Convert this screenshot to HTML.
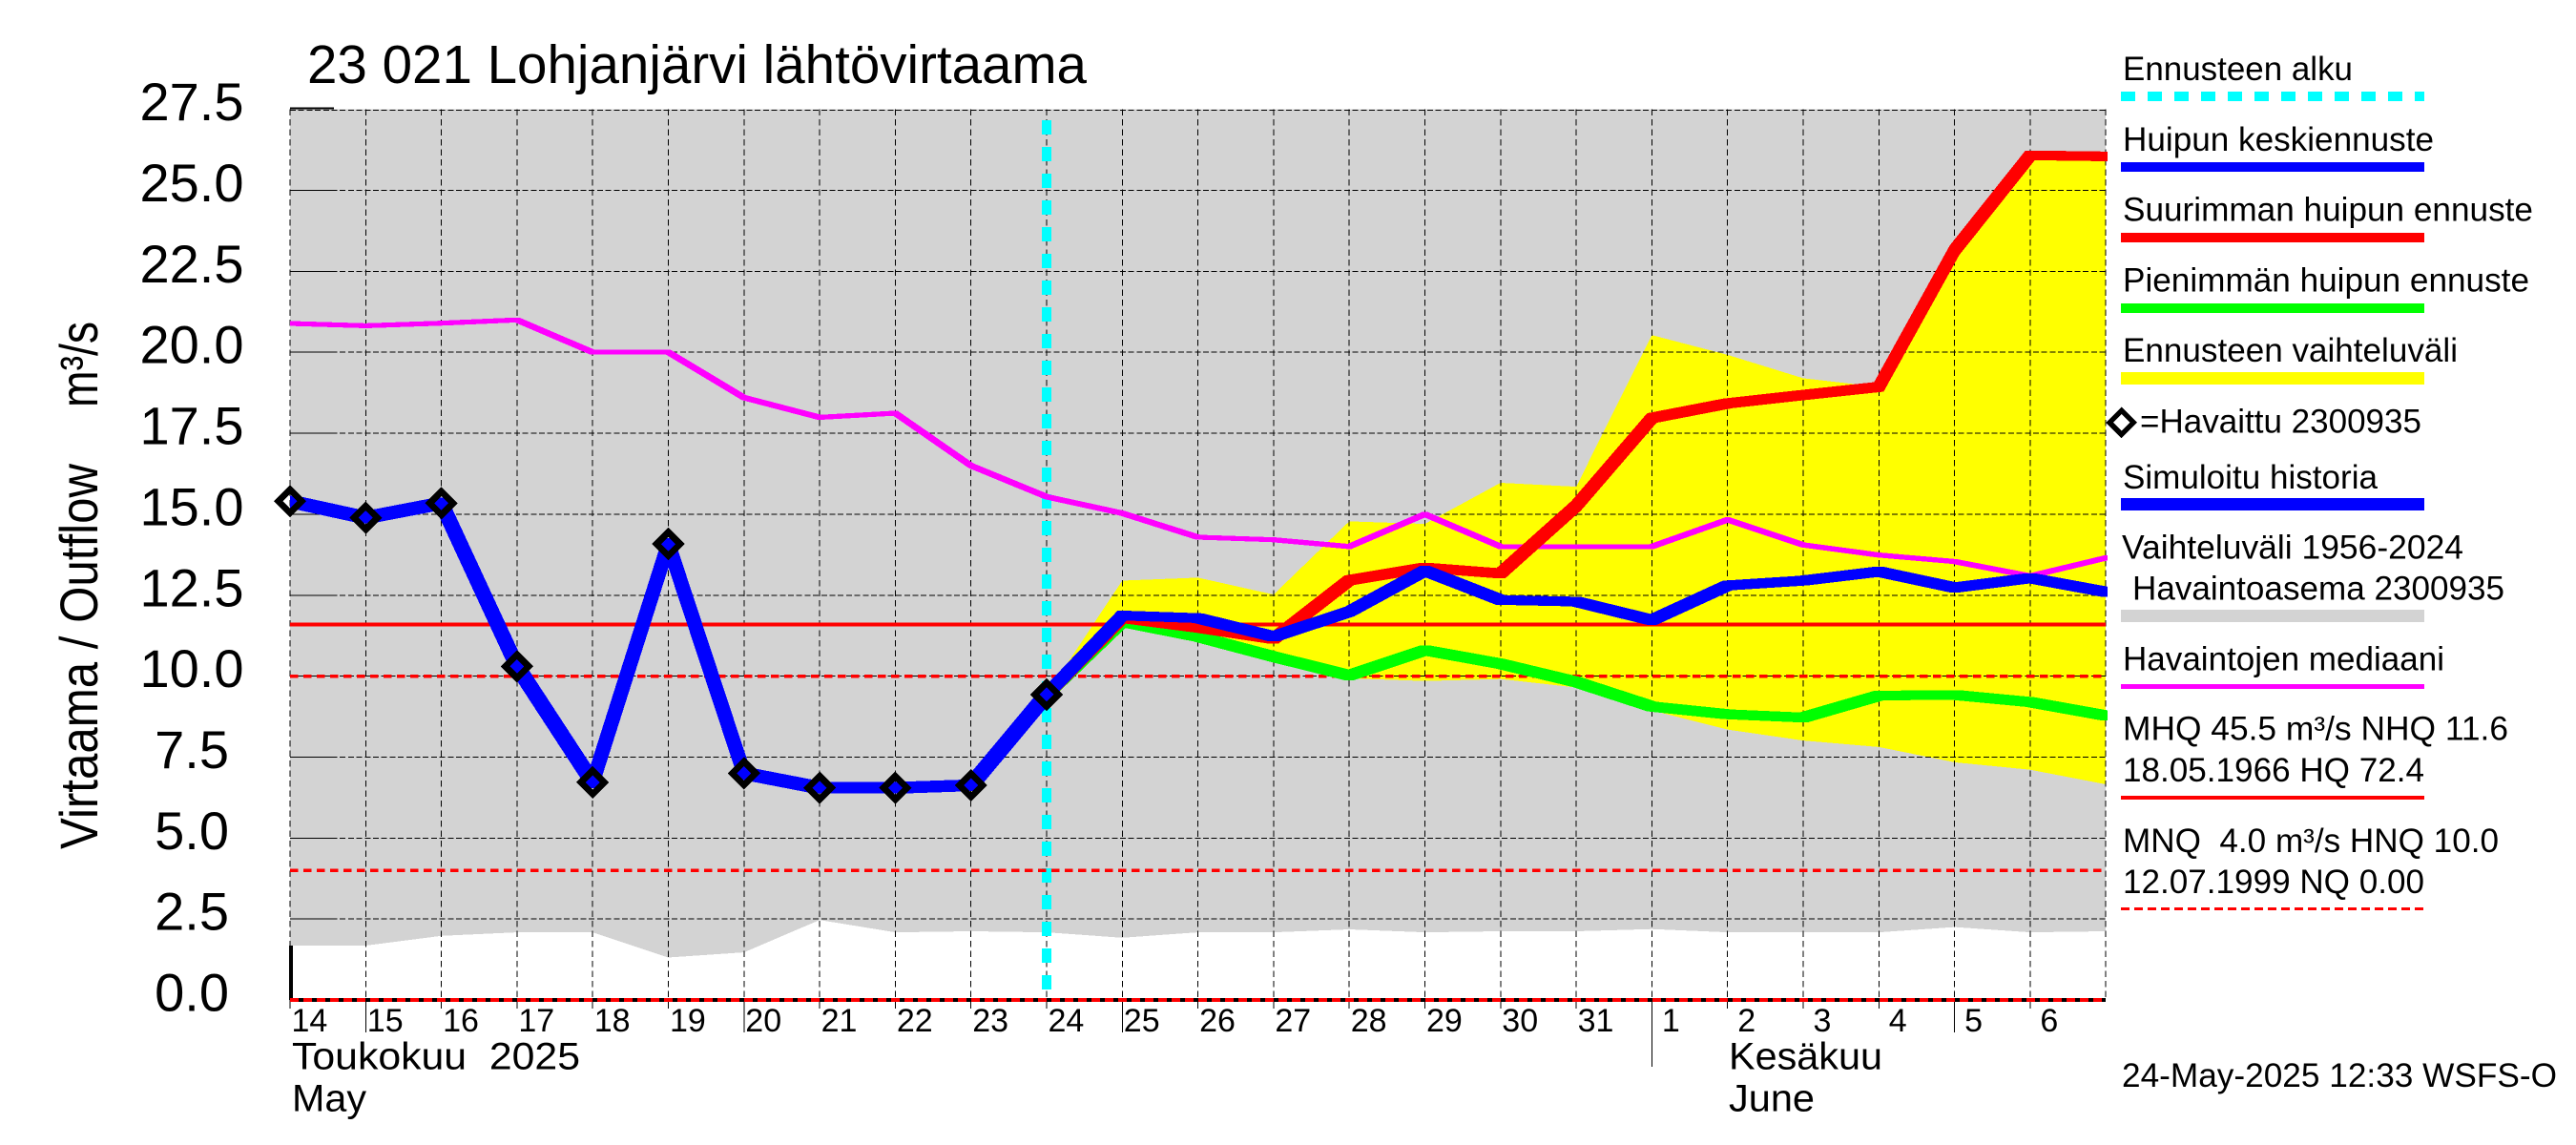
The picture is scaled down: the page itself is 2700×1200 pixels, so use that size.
<!DOCTYPE html>
<html lang="fi">
<head>
<meta charset="utf-8">
<title>23 021 Lohjanjärvi lähtövirtaama</title>
<style>
html,body{margin:0;padding:0;background:#fff;width:2700px;height:1200px;overflow:hidden}
svg{display:block}
text{font-family:"Liberation Sans",sans-serif;fill:#000;white-space:pre}
</style>
</head>
<body>
<svg id="chart" xmlns="http://www.w3.org/2000/svg" width="2700" height="1200" viewBox="0 0 2700 1200">
  <defs>
    <clipPath id="plot-clip"><rect x="304" y="100" width="1905" height="960"/></clipPath>
  </defs>
  <rect x="0" y="0" width="2700" height="1200" fill="#fff"/>
  <g id="plot" shape-rendering="crispEdges"></g>
  <g id="axes-text"></g>

  <text x="322" y="87" font-size="57" textLength="817" lengthAdjust="spacingAndGlyphs">23 021 Lohjanjärvi lähtövirtaama</text>
  <text transform="translate(102,890) rotate(-90)" font-size="56" textLength="404" lengthAdjust="spacingAndGlyphs">Virtaama / Outflow</text>
  <text transform="translate(102,427) rotate(-90)" font-size="56" textLength="90" lengthAdjust="spacingAndGlyphs">m³/s</text>

  <text x="306" y="1120.500" font-size="40" textLength="302" lengthAdjust="spacingAndGlyphs">Toukokuu  2025</text>
  <text x="306" y="1164.300" font-size="40" textLength="78" lengthAdjust="spacingAndGlyphs">May</text>
  <text x="1812" y="1120.500" font-size="40" textLength="161" lengthAdjust="spacingAndGlyphs">Kesäkuu</text>
  <text x="1812" y="1164.300" font-size="40" textLength="90" lengthAdjust="spacingAndGlyphs">June</text>

  <g>
    <text x="2225" y="84" font-size="35" textLength="241" lengthAdjust="spacingAndGlyphs">Ennusteen alku</text>
    <line x1="2223" x2="2541" y1="101" y2="101" stroke="#00ffff" stroke-width="10" stroke-dasharray="15 13" shape-rendering="crispEdges"/>
    <text x="2225" y="158" font-size="35" textLength="326" lengthAdjust="spacingAndGlyphs">Huipun keskiennuste</text>
    <rect x="2223" y="170" width="318" height="10" fill="#0000ff"/>
    <text x="2225" y="231.500" font-size="35" textLength="430" lengthAdjust="spacingAndGlyphs">Suurimman huipun ennuste</text>
    <rect x="2223" y="244" width="318" height="10" fill="#ff0000"/>
    <text x="2225" y="305.500" font-size="35" textLength="426" lengthAdjust="spacingAndGlyphs">Pienimmän huipun ennuste</text>
    <rect x="2223" y="318" width="318" height="10" fill="#00ff00"/>
    <text x="2225" y="379" font-size="35" textLength="351" lengthAdjust="spacingAndGlyphs">Ennusteen vaihteluväli</text>
    <rect x="2223" y="390" width="318" height="13" fill="#ffff00"/>
    <polygon points="2223.700,430.200 2236.300,442.800 2223.700,455.400 2211.100,442.800" fill="#fff" stroke="#000" stroke-width="5.500" shape-rendering="crispEdges"/>
    <text x="2243" y="453.500" font-size="35" textLength="295" lengthAdjust="spacingAndGlyphs">=Havaittu 2300935</text>
    <text x="2225" y="512" font-size="35" textLength="267" lengthAdjust="spacingAndGlyphs">Simuloitu historia</text>
    <rect x="2223" y="522" width="318" height="13" fill="#0000ff"/>
    <text x="2224" y="585.500" font-size="35" textLength="358" lengthAdjust="spacingAndGlyphs">Vaihteluväli 1956-2024</text>
    <text x="2235" y="628.700" font-size="35" textLength="390" lengthAdjust="spacingAndGlyphs">Havaintoasema 2300935</text>
    <rect x="2223" y="639" width="318" height="13" fill="#d3d3d3"/>
    <text x="2225" y="702.600" font-size="35" textLength="337" lengthAdjust="spacingAndGlyphs">Havaintojen mediaani</text>
    <rect x="2223" y="717" width="318" height="5" fill="#ff00ff"/>
    <text x="2225" y="775.300" font-size="35" textLength="404" lengthAdjust="spacingAndGlyphs">MHQ 45.5 m³/s NHQ 11.6</text>
    <text x="2225" y="819" font-size="35" textLength="316" lengthAdjust="spacingAndGlyphs">18.05.1966 HQ 72.4</text>
    <rect x="2223" y="834" width="318" height="4" fill="#ff0000"/>
    <text x="2225" y="892.800" font-size="35" textLength="394" lengthAdjust="spacingAndGlyphs">MNQ  4.0 m³/s HNQ 10.0</text>
    <text x="2225" y="936" font-size="35" textLength="316" lengthAdjust="spacingAndGlyphs">12.07.1999 NQ 0.00</text>
    <line x1="2223" x2="2541" y1="952.500" y2="952.500" stroke="#ff0000" stroke-width="3" stroke-dasharray="9 5" shape-rendering="crispEdges"/>
  </g>
  <text x="2224" y="1138.800" font-size="35" textLength="456" lengthAdjust="spacingAndGlyphs">24-May-2025 12:33 WSFS-O</text>
</svg>

<script>
// ---- chart data ----
const dayLabels = ["14","15","16","17","18","19","20","21","22","23","24","25","26","27","28","29","30","31","1","2","3","4","5","6"];
const yTicks = [0, 2.5, 5, 7.5, 10, 12.5, 15, 17.5, 20, 22.5, 25, 27.5];
const longTickDays = ["15","20","25","5"];
const monthBoundaryDay = "1";

// day index 0 = 14 May; index 24 = right edge of the plot
const historyLow = [1.68,1.68,1.98,2.09,2.09,1.31,1.47,2.47,2.09,2.12,2.09,1.92,2.09,2.09,2.18,2.09,2.12,2.12,2.19,2.09,2.09,2.09,2.25,2.09,2.12];
const historyHigh = 27.5;
const observedMedian = [20.89,20.82,20.9,21.0,20.0,20.0,18.6,17.99,18.12,16.5,15.54,15.03,14.29,14.21,14.0,15.0,14.0,14.0,14.0,14.83,14.05,13.74,13.54,13.09,13.65];

const observed = [15.4,14.89,15.34,10.3,6.72,14.08,7.0,6.55,6.55,6.63,9.43];

// forecast series start at day index 10
const forecastStart = 10;
const rangeUpper = [9.43,12.95,13.04,12.52,14.78,14.7,15.97,15.85,20.53,19.92,19.2,18.93,23.15,26.08,26.05];
const rangeLower = [9.43,11.68,11.2,10.6,9.93,9.85,9.91,9.65,8.94,8.35,8.01,7.81,7.34,7.11,6.66];
const peakMax = [9.43,11.8,11.5,11.15,12.96,13.35,13.17,15.26,17.97,18.42,18.68,18.93,23.15,26.08,26.05];
const peakMedian = [9.43,11.87,11.79,11.22,11.99,13.26,12.35,12.3,11.73,12.8,12.95,13.23,12.73,13.03,12.6];
const peakMin = [9.43,11.68,11.22,10.6,10.02,10.8,10.38,9.82,9.06,8.82,8.72,9.4,9.42,9.2,8.78];

const nhq = 11.6;
const hnq = 10.0;
const mnq = 4.0;
const nq = 0;

// ---- axis functions ----
function xAt(dayIndex){ return 304 + 79.3 * dayIndex; }
function yAt(value){ return 1048 - 33.94 * value; }

const NS = 'http://www.w3.org/2000/svg';
const plot = document.getElementById('plot');
const axesText = document.getElementById('axes-text');
function make(tag, attrs, parent){
  const el = document.createElementNS(NS, tag);
  for (const k in attrs) el.setAttribute(k, attrs[k]);
  parent.appendChild(el);
  return el;
}
function fmt(n){ return n.toFixed(1); }

// thick lines use a square pen, as the original plotting software does
function penPath(indices, values, pen){
  const h = pen / 2;
  let d = '';
  for (let i = 0; i + 1 < values.length; i++){
    const x1 = xAt(indices + i), y1 = yAt(values[i]);
    const x2 = xAt(indices + i + 1), y2 = yAt(values[i + 1]);
    const p = y2 >= y1
      ? [[x1-h,y1-h],[x1+h,y1-h],[x2+h,y2-h],[x2+h,y2+h],[x2-h,y2+h],[x1-h,y1+h]]
      : [[x1-h,y1+h],[x1-h,y1-h],[x2-h,y2-h],[x2+h,y2-h],[x2+h,y2+h],[x1+h,y1+h]];
    d += 'M' + p.map(q => fmt(q[0]) + ' ' + fmt(q[1])).join('L') + 'Z';
  }
  return d;
}

// ---- filled ranges ----
const plotLeft = xAt(0), plotRight = xAt(24), plotTop = yAt(historyHigh), plotBottom = yAt(0);
let pts = historyLow.map((v, i) => fmt(xAt(i)) + ',' + fmt(yAt(v)));
pts.unshift(fmt(plotLeft) + ',' + fmt(plotTop));
pts.push(fmt(plotRight) + ',' + fmt(plotTop));
const grayArea = make('polygon', {points: pts.join(' '), fill: '#d3d3d3'}, plot);



pts = rangeUpper.map((v, i) => fmt(xAt(forecastStart + i)) + ',' + fmt(yAt(v)));
for (let i = rangeLower.length - 1; i >= 0; i--) pts.push(fmt(xAt(forecastStart + i)) + ',' + fmt(yAt(rangeLower[i])));
const yellowArea = make('polygon', {points: pts.join(' '), fill: '#ffff00'}, plot);



// ---- grid ----
yTicks.forEach(v => {
  const y = yAt(v);
  if (v > 0){
    const g = make('line', {x1: plotLeft, x2: plotRight, y1: y + (v === historyHigh ? 0.7 : 0), y2: y + (v === historyHigh ? 0.7 : 0), stroke: '#000', 'stroke-width': 1, 'stroke-dasharray': '6 2.700'}, plot);
    
    
    const isTop = v === historyHigh;
    const t = make('line', {x1: plotLeft, x2: plotLeft + 46, y1: isTop ? y - 1 : y, y2: isTop ? y - 1 : y, stroke: '#000', 'stroke-width': isTop ? 2 : 1}, plot);
    
    
  }
});
for (let i = 0; i <= 24; i++){
  const x = xAt(i);
  const g = make('line', {x1: x, x2: x, y1: plotTop, y2: plotBottom, stroke: '#000', 'stroke-width': 1, 'stroke-dasharray': '6.500 4'}, plot);
  
  
  if (i < dayLabels.length){
    const isBoundary = dayLabels[i] === monthBoundaryDay;
    const isLong = longTickDays.includes(dayLabels[i]);
    const tickEnd = isBoundary ? 1118 : (isLong ? 1082 : 1057);
    const t = make('line', {x1: x, x2: x, y1: plotBottom, y2: tickEnd, stroke: '#000', 'stroke-width': 1}, plot);
    
    
  }
}
const yAxisFoot = make('line', {x1: plotLeft + 1, x2: plotLeft + 1, y1: yAt(historyLow[0]), y2: plotBottom, stroke: '#000', 'stroke-width': 4}, plot);



// ---- forecast start marker ----
const startLine = make('line', {x1: xAt(forecastStart), x2: xAt(forecastStart), y1: 126, y2: plotBottom, stroke: '#00ffff', 'stroke-width': 10, 'stroke-dasharray': '15 13'}, plot);



// ---- reference levels ----
const nhqLine = make('line', {x1: plotLeft, x2: plotRight, y1: yAt(nhq), y2: yAt(nhq), stroke: '#ff0000', 'stroke-width': 4}, plot);


const hnqLine = make('line', {x1: plotLeft, x2: plotRight, y1: yAt(hnq), y2: yAt(hnq), stroke: '#ff0000', 'stroke-width': 3.5, 'stroke-dasharray': '8.500 5.500'}, plot);


const mnqLine = make('line', {x1: plotLeft, x2: plotRight, y1: yAt(mnq), y2: yAt(mnq), stroke: '#ff0000', 'stroke-width': 3.5, 'stroke-dasharray': '8.500 5.500'}, plot);


const xAxisLine = make('line', {x1: plotLeft, x2: plotRight, y1: yAt(nq), y2: yAt(nq), stroke: '#000', 'stroke-width': 4}, plot);


const nqLine = make('line', {x1: plotLeft, x2: plotRight, y1: yAt(nq), y2: yAt(nq), stroke: '#ff0000', 'stroke-width': 4, 'stroke-dasharray': '9 5'}, plot);



// ---- series ----
const medianPath = make('path', {d: penPath(0, observedMedian, 5), fill: '#ff00ff', 'clip-path': 'url(#plot-clip)'}, plot);


const minPath = make('path', {d: penPath(forecastStart, peakMin, 10), fill: '#00ff00', 'clip-path': 'url(#plot-clip)'}, plot);


const maxPath = make('path', {d: penPath(forecastStart, peakMax, 10), fill: '#ff0000', 'clip-path': 'url(#plot-clip)'}, plot);


const medPath = make('path', {d: penPath(forecastStart, peakMedian, 10), fill: '#0000ff', 'clip-path': 'url(#plot-clip)'}, plot);


const simPath = make('path', {d: penPath(0, observed, 12), fill: '#0000ff', 'clip-path': 'url(#plot-clip)'}, plot);



observed.forEach((v, i) => {
  const x = xAt(i), y = yAt(v), r = 12.3;
  const pointsStr = [[x,y-r],[x+r,y],[x,y+r],[x-r,y]].map(q => fmt(q[0]) + ',' + fmt(q[1])).join(' ');
  const m = make('polygon', {points: pointsStr, fill: 'none', stroke: '#000', 'stroke-width': 6.8}, plot);
  
  
});

// ---- tick labels ----
yTicks.forEach(v => {
  const oneDigit = v < 10;
  const lab = make('text', {x: oneDigit ? 240 : 255.5, y: fmt(yAt(v) + 11.5), 'font-size': 56, 'text-anchor': 'end'}, axesText);
  lab.textContent = v.toFixed(1);
  
  
});
dayLabels.forEach((d, i) => {
  const lab = make('text', {x: fmt(xAt(i) + (d.length === 1 ? 10.5 : 1.5)), y: 1081, 'font-size': 34}, axesText);
  lab.textContent = d;
  
  
});
</script>
</body>
</html>
